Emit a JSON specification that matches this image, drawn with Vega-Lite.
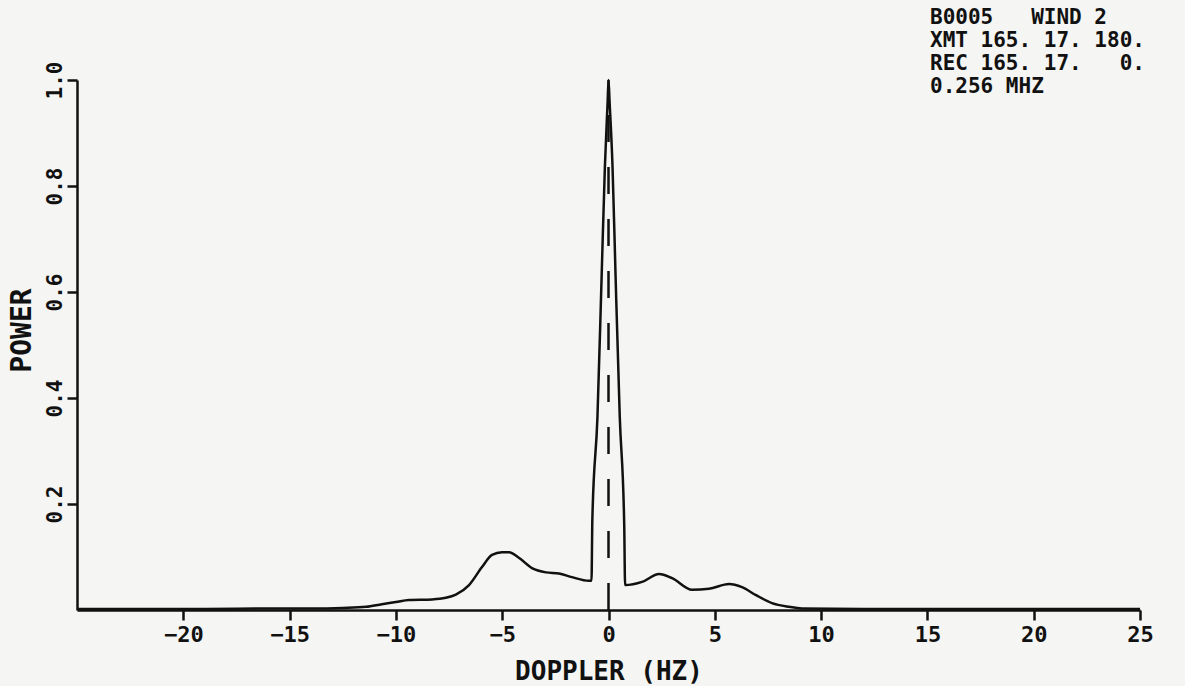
{
  "$schema": "https://vega.github.io/schema/vega-lite/v6.json",
  "width": 1063,
  "height": 530,
  "autosize": {"type": "none"},
  "padding": {"left": 77, "top": 80, "right": 45, "bottom": 76},
  "background": "#f5f5f3",
  "config": {"view": {"stroke": null}, "font": "DejaVu Sans Mono"},
  "title": {
    "text": ["B0005\u00a0\u00a0\u00a0WIND 2", "XMT 165. 17. 180.", "REC 165. 17.\u00a0\u00a0\u00a00.", "0.256 MHZ"],
    "anchor": "start",
    "frame": "group",
    "dx": 853,
    "align": "left",
    "baseline": "top",
    "offset": -36,
    "font": "DejaVu Sans Mono",
    "fontSize": 21,
    "fontWeight": "bold",
    "lineHeight": 23,
    "color": "#111"
  },
  "datasets": {
    "spectrum": [
      {"doppler": -25, "power": 0.002},
      {"doppler": -22, "power": 0.002},
      {"doppler": -19, "power": 0.002},
      {"doppler": -16, "power": 0.003},
      {"doppler": -14, "power": 0.003},
      {"doppler": -12.5, "power": 0.004},
      {"doppler": -11.4, "power": 0.006},
      {"doppler": -10.66, "power": 0.011},
      {"doppler": -10.0, "power": 0.015},
      {"doppler": -9.39, "power": 0.019},
      {"doppler": -8.3, "power": 0.02},
      {"doppler": -7.65, "power": 0.023},
      {"doppler": -7.18, "power": 0.029},
      {"doppler": -6.56, "power": 0.047},
      {"doppler": -5.95, "power": 0.081},
      {"doppler": -5.48, "power": 0.104},
      {"doppler": -5.01, "power": 0.109},
      {"doppler": -4.68, "power": 0.109},
      {"doppler": -4.2, "power": 0.098},
      {"doppler": -3.6, "power": 0.079},
      {"doppler": -2.94, "power": 0.071},
      {"doppler": -2.33, "power": 0.069},
      {"doppler": -1.72, "power": 0.062},
      {"doppler": -0.92, "power": 0.055},
      {"doppler": -0.8, "power": 0.055},
      {"doppler": -0.76, "power": 0.17},
      {"doppler": -0.52, "power": 0.364},
      {"doppler": -0.32, "power": 0.634},
      {"doppler": -0.17, "power": 0.836},
      {"doppler": -0.04, "power": 0.96},
      {"doppler": 0, "power": 1.0},
      {"doppler": 0.05, "power": 0.96},
      {"doppler": 0.19, "power": 0.836},
      {"doppler": 0.33, "power": 0.634},
      {"doppler": 0.53, "power": 0.364},
      {"doppler": 0.74, "power": 0.16},
      {"doppler": 0.78, "power": 0.047},
      {"doppler": 1.58, "power": 0.053},
      {"doppler": 2.38, "power": 0.068},
      {"doppler": 2.99, "power": 0.06},
      {"doppler": 3.93, "power": 0.038},
      {"doppler": 4.73, "power": 0.04},
      {"doppler": 5.67, "power": 0.049},
      {"doppler": 6.28, "power": 0.043},
      {"doppler": 6.94, "power": 0.028},
      {"doppler": 7.69, "power": 0.013},
      {"doppler": 8.49, "power": 0.006},
      {"doppler": 9.1, "power": 0.003},
      {"doppler": 12, "power": 0.002},
      {"doppler": 16, "power": 0.002},
      {"doppler": 20, "power": 0.002},
      {"doppler": 25, "power": 0.002}
    ],
    "center": [
      {"doppler": 0, "lo": 0, "hi": 1}
    ]
  },
  "layer": [
    {
      "data": {"name": "spectrum"},
      "mark": {"type": "line", "color": "#111", "strokeWidth": 2.5, "interpolate": "monotone"},
      "encoding": {
        "x": {
          "field": "doppler",
          "type": "quantitative",
          "scale": {"domain": [-25, 25], "nice": false, "zero": false},
          "axis": {
            "values": [-20, -15, -10, -5, 0, 5, 10, 15, 20, 25],
            "grid": false,
            "domainColor": "#111",
            "domainWidth": 2.5,
            "tickColor": "#111",
            "tickWidth": 2.5,
            "tickSize": 10,
            "labelFont": "DejaVu Sans Mono",
            "labelFontSize": 22,
            "labelFontWeight": "bold",
            "labelColor": "#111",
            "labelPadding": 4,
            "labelFlush": false,
            "title": "DOPPLER (HZ)",
            "titleFont": "DejaVu Sans Mono",
            "titleFontSize": 26,
            "titleFontWeight": "bold",
            "titleColor": "#111",
            "titleBaseline": "alphabetic",
            "titleY": 69
          }
        },
        "y": {
          "field": "power",
          "type": "quantitative",
          "scale": {"domain": [0, 1], "nice": false},
          "axis": {
            "values": [0.2, 0.4, 0.6, 0.8, 1.0],
            "format": ".1f",
            "grid": false,
            "domainColor": "#111",
            "domainWidth": 2.5,
            "tickColor": "#111",
            "tickWidth": 2.5,
            "tickSize": 10,
            "labelFont": "DejaVu Sans Mono",
            "labelFontSize": 21,
            "labelFontWeight": "bold",
            "labelColor": "#111",
            "labelAngle": 270,
            "labelAlign": "center",
            "labelBaseline": "bottom",
            "labelPadding": 2,
            "title": "POWER",
            "titleFont": "DejaVu Sans Mono",
            "titleFontSize": 28,
            "titleFontWeight": "bold",
            "titleColor": "#111",
            "titleAngle": 270,
            "titleAlign": "center",
            "titleBaseline": "middle",
            "titleX": -55,
            "titleY": 250
          }
        }
      }
    },
    {
      "data": {"name": "center"},
      "mark": {"type": "rule", "color": "#111", "strokeWidth": 2.5, "strokeDash": [27, 25]},
      "encoding": {
        "x": {"field": "doppler", "type": "quantitative"},
        "y": {"field": "lo", "type": "quantitative"},
        "y2": {"field": "hi"}
      }
    }
  ]
}
